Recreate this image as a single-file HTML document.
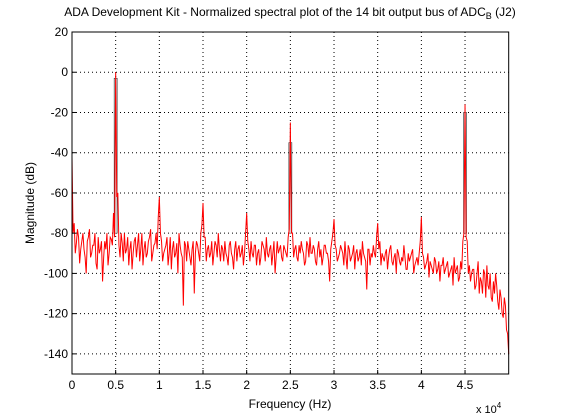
<!DOCTYPE html>
<html><head><meta charset="utf-8"><style>
body{margin:0;background:#fff;}
svg{display:block;font-family:"Liberation Sans",Arial,sans-serif;}
</style></head><body>
<svg id="chart" width="561" height="420">
<text x="290" y="16" font-size="12" text-anchor="middle">ADA Development Kit - Normalized spectral plot of the 14 bit output bus of ADC<tspan font-size="9" dy="3">B</tspan><tspan dy="-3"> (J2)</tspan></text>
<g id="grid"></g>
<g id="stems"></g>
<polyline id="trace" fill="none" stroke="#ff0000" stroke-width="1"/>
<rect x="72" y="32" width="436.7" height="342" fill="none" stroke="#000" stroke-width="1"/>
<g id="ticks" font-size="12"></g>
<text x="290" y="408" font-size="12" text-anchor="middle">Frequency (Hz)</text>
<text x="476" y="413" font-size="11">x 10<tspan font-size="8" dy="-5">4</tspan></text>
<text transform="translate(34,203) rotate(-90)" font-size="12" text-anchor="middle">Magnitude (dB)</text>
</svg>
<script>
const xTicks=[0,0.5,1,1.5,2,2.5,3,3.5,4,4.5];
const yTicks=[20,0,-20,-40,-60,-80,-100,-120,-140];
const freqStep=250;
const magnitudes=[
-42,-75,-85,-82,-88,-80,-92,-84,-78,-90,-86,-95,-82,-88,-104,-84,-80,-90,-83,-70,
0,-60,-92,-85,-80,-88,-96,-84,-90,-82,-86,-94,-80,-88,-92,-84,-78,-90,-85,-88,
-62,-84,-90,-86,-96,-82,-88,-92,-85,-80,-90,-116,-86,-84,-92,-88,-110,-84,-90,-80,
-65,-82,-88,-92,-84,-90,-86,-80,-94,-88,-84,-92,-86,-90,-98,-84,-88,-92,-86,-90,
-70,-88,-84,-92,-86,-90,-96,-84,-88,-82,-92,-86,-90,-100,-84,-88,-92,-86,-90,-82,
-25,-80,-88,-92,-86,-84,-90,-94,-86,-82,-90,-88,-96,-84,-88,-92,-86,-90,-104,-84,
-73,-88,-92,-86,-90,-84,-98,-88,-92,-86,-90,-94,-88,-84,-92,-108,-88,-90,-86,-92,
-75,-84,-90,-94,-88,-92,-86,-96,-90,-88,-94,-92,-86,-98,-90,-92,-88,-96,-92,-90,
-72,-92,-96,-90,-94,-98,-92,-100,-94,-96,-92,-98,-94,-100,-96,-92,-98,-104,-94,-84,
-16,-84,-96,-100,-98,-106,-94,-102,-110,-100,-96,-108,-112,-104,-100,-114,-108,-120,-112,-128,-140];
const magnitudesMid=[
-80,-90,-78,-95,-84,-88,-100,-82,-92,-86,-80,-98,-90,-84,-92,-88,-96,-82,-86,-82,
-62,-86,-80,-94,-90,-82,-88,-98,-84,-92,-80,-88,-96,-84,-90,-82,-94,-86,-80,-72,
-80,-94,-88,-82,-90,-98,-84,-90,-100,-86,-92,-84,-94,-88,-96,-84,-90,-86,-94,-76,
-82,-94,-86,-90,-96,-84,-92,-88,-86,-94,-90,-96,-84,-92,-88,-94,-86,-90,-96,-80,
-84,-94,-90,-86,-96,-88,-92,-86,-94,-90,-88,-96,-84,-92,-90,-86,-94,-88,-92,-78,
-80,-92,-86,-94,-90,-88,-96,-84,-92,-90,-86,-94,-88,-92,-96,-86,-90,-94,-88,-80,
-86,-94,-90,-88,-96,-92,-86,-94,-90,-98,-88,-92,-96,-90,-94,-88,-96,-92,-90,-82,
-88,-96,-92,-90,-98,-88,-94,-92,-100,-90,-96,-94,-92,-98,-94,-90,-100,-94,-96,-84,
-90,-98,-94,-102,-96,-100,-94,-98,-104,-96,-100,-96,-102,-98,-106,-100,-96,-102,-98,-80,
-82,-100,-104,-98,-108,-100,-110,-104,-98,-112,-106,-100,-114,-110,-106,-118,-112,-122,-116,-130];
const stemFreqs=[5000,25000,45000];
const stemTops=[-3,-35,-20];
const L=72,T=32,W=436.7,H=342,xMax=50000,yMin=-150,yMax=20;
const sx=f=>L+f/xMax*W, sy=v=>T+(yMax-v)/(yMax-yMin)*H;
const NS="http://www.w3.org/2000/svg";
const grid=document.getElementById('grid'),ticks=document.getElementById('ticks');
function mk(tag,a,p){const e=document.createElementNS(NS,tag);for(const k in a)e.setAttribute(k,a[k]);p.appendChild(e);return e;}
xTicks.forEach(t=>{const x=sx(t*1e4);
 if(t>0){const g=mk('line',{x1:x,x2:x,y1:T,y2:T+H,stroke:'#000','stroke-dasharray':'1,3'},grid);
 
 }
 const tk=mk('line',{x1:x,x2:x,y1:T+H,y2:T+H-4,stroke:'#000'},ticks);
 
 
 const lb=mk('text',{x:x,y:T+H+15,'text-anchor':'middle'},ticks);lb.textContent=String(t);
 
 });
yTicks.forEach(t=>{const y=sy(t);
 if(t<20){const g=mk('line',{x1:L,x2:L+W,y1:y,y2:y,stroke:'#000','stroke-dasharray':'1,3'},grid);
 
 }
 const tk=mk('line',{x1:L,x2:L+4,y1:y,y2:y,stroke:'#000'},ticks);
 
 
 const lb=mk('text',{x:L-4,y:y+4,'text-anchor':'end'},ticks);lb.textContent=String(t);
 
 });
const stems=document.getElementById('stems');
stemFreqs.forEach((f,i)=>{const x=sx(f);
 const r=mk('rect',{x:x-1.5,y:sy(stemTops[i]),width:3,height:sy(-80)-sy(stemTops[i]),fill:'#ddd',stroke:'#333','stroke-width':0.6},stems);
 
 });
const pts=[];
magnitudes.forEach((v,i)=>{pts.push(sx(i*freqStep)+','+sy(v));
 if(i<magnitudesMid.length)pts.push(sx(i*freqStep+freqStep/2)+','+sy(magnitudesMid[i]));});
document.getElementById('trace').setAttribute('points',pts.join(' '));
</script>
</body></html>
